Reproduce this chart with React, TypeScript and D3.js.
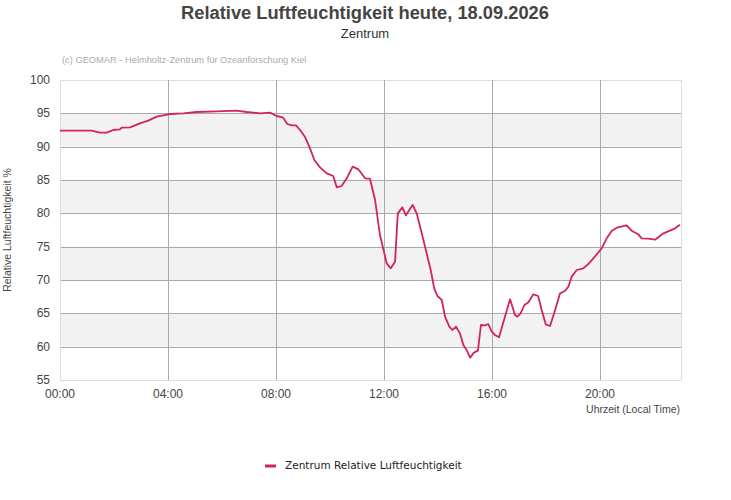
import * as d3 from 'd3';

// hours since midnight and relative humidity (%)
const hours = [
    0, 1.17, 1.48, 1.73, 1.97, 2.22, 2.28, 2.59, 2.96, 3.27, 3.58, 3.83, 4.07, 4.57, 5.06, 5.8, 6.54, 6.91,
    7.41, 7.78, 8.02, 8.25, 8.42, 8.58, 8.74, 8.89, 9.07, 9.26, 9.42, 9.63, 9.88, 10.12, 10.25, 10.43, 10.62,
    10.84, 11.05, 11.3, 11.48, 11.67, 11.85, 12.1, 12.25, 12.41, 12.51, 12.68, 12.81, 13.06, 13.21, 13.46,
    13.73, 13.86, 13.98, 14.14, 14.26, 14.42, 14.53, 14.67, 14.81, 14.94, 15.06, 15.19, 15.33, 15.48, 15.59,
    15.74, 15.86, 15.99, 16.11, 16.26, 16.48, 16.67, 16.85, 16.94, 17.06, 17.2, 17.35, 17.53, 17.71, 17.84,
    17.99, 18.15, 18.33, 18.52, 18.7, 18.83, 18.95, 19.14, 19.38, 19.57, 19.81, 20.06, 20.25, 20.43, 20.62,
    20.99, 21.17, 21.42, 21.54, 21.79, 22.04, 22.35, 22.59, 22.78, 22.96,
];
const humidity = [
    92.4, 92.4, 92.1, 92.1, 92.5, 92.6, 92.85, 92.9, 93.5, 93.9, 94.5, 94.7, 94.9, 95.0, 95.2, 95.3, 95.4, 95.2,
    95.0, 95.1, 94.6, 94.4, 93.4, 93.2, 93.2, 92.5, 91.5, 89.75, 88.0, 86.9, 86.0, 85.6, 83.9, 84.1, 85.25,
    87.0, 86.6, 85.25, 85.2, 82.0, 76.75, 72.5, 71.75, 72.75, 80.0, 80.9, 79.7, 81.25, 80.0, 76.0,
    71.5, 68.75, 67.6, 67.0, 64.5, 63.0, 62.5, 63.0, 62.0, 60.25, 59.5, 58.35, 59.1, 59.4, 63.25,
    63.2, 63.4, 62.25, 61.75, 61.4, 64.5, 67.1, 64.75, 64.5, 65.0, 66.25, 66.65, 67.85, 67.6, 65.5,
    63.35, 63.1, 65.4, 68.0, 68.35, 69.0, 70.5, 71.5, 71.75, 72.4, 73.5, 74.75, 76.25, 77.35, 77.85,
    78.2, 77.4, 76.85, 76.25, 76.2, 76.05, 77.0, 77.4, 77.75, 78.3,
];
const yTicks = [55, 60, 65, 70, 75, 80, 85, 90, 95, 100];
const xTicks = [0, 4, 8, 12, 16, 20];
const xTickLabels = ['00:00', '04:00', '08:00', '12:00', '16:00', '20:00'];

const width = 731;
const height = 500;
const margin = { top: 80, right: 50, bottom: 120, left: 60 };
const lineColor = '#d2245a';
const font = '"Liberation Sans", Arial, sans-serif';

const App = () => {
    const x = d3.scaleLinear().domain([0, 23]).range([margin.left, width - margin.right]);
    const y = d3.scaleLinear().domain([55, 100]).range([height - margin.bottom, margin.top]);

    const points = hours.map((h, i) => [h, humidity[i]] as [number, number]);
    const line = d3
        .line<[number, number]>()
        .x(d => x(d[0]))
        .y(d => y(d[1]));

    const bands = yTicks.slice(0, -1).filter((_, i) => i % 2 === 1);

    return (
        <svg width={width} height={height} style={{ position: 'absolute', left: 0, top: 0, fontFamily: font }}>
            <rect width={width} height={height} fill="#fff" />
            <text x={365} y={19} textAnchor="middle" fontSize={18.3} fontWeight="bold" fill="#444">
                Relative Luftfeuchtigkeit heute, 18.09.2026
            </text>
            <text x={365} y={38} textAnchor="middle" fontSize={13} fill="#333">
                Zentrum
            </text>
            <text x={62} y={63} fontSize={9.3} fill="#aaa">
                (c) GEOMAR - Helmholtz-Zentrum für Ozeanforschung Kiel
            </text>

            {/* alternating bands */}
            {bands.map(v => (
                <rect
                    key={v}
                    x={x(0)}
                    y={y(v + 5)}
                    width={x(23) - x(0)}
                    height={y(v) - y(v + 5)}
                    fill="#f2f2f2"
                />
            ))}

            {/* horizontal grid */}
            {yTicks.map(v => (
                <line
                    key={v}
                    x1={x(0)}
                    x2={x(23)}
                    y1={Math.round(y(v)) + 0.5}
                    y2={Math.round(y(v)) + 0.5}
                    stroke={v === 55 || v === 100 ? '#ddd' : '#aaa'}
                />
            ))}
            {/* vertical grid */}
            {xTicks.map(h => (
                <line
                    key={h}
                    x1={Math.round(x(h)) + 0.5}
                    x2={Math.round(x(h)) + 0.5}
                    y1={y(100)}
                    y2={y(55)}
                    stroke={h === 0 ? '#ddd' : '#aaa'}
                />
            ))}
            <line x1={x(23) + 0.5} x2={x(23) + 0.5} y1={y(100)} y2={y(55)} stroke="#ddd" />

            <path d={line(points) ?? ''} fill="none" stroke={lineColor} strokeWidth={1.8} strokeLinejoin="round" />

            {yTicks.map(v => (
                <text key={v} x={50} y={y(v) + 4} textAnchor="end" fontSize={12} fill="#444">
                    {v}
                </text>
            ))}
            {xTicks.map((h, i) => (
                <text key={h} x={x(h)} y={398} textAnchor="middle" fontSize={12} fill="#444">
                    {xTickLabels[i]}
                </text>
            ))}
            <text x={680} y={413} textAnchor="end" fontSize={10.5} fill="#444">
                Uhrzeit (Local Time)
            </text>
            <text
                transform={`translate(11,${(y(100) + y(55)) / 2}) rotate(-90)`}
                textAnchor="middle"
                fontSize={10.5}
                fill="#444"
            >
                Relative Luftfeuchtigkeit %
            </text>

            {/* legend */}
            <line x1={265} x2={276} y1={466} y2={466} stroke={lineColor} strokeWidth={3} />
            <text x={285} y={469} fontSize={10.5} fill="#222" fontFamily='"DejaVu Sans", sans-serif'>
                Zentrum Relative Luftfeuchtigkeit
            </text>
        </svg>
    );
};

export default App;
